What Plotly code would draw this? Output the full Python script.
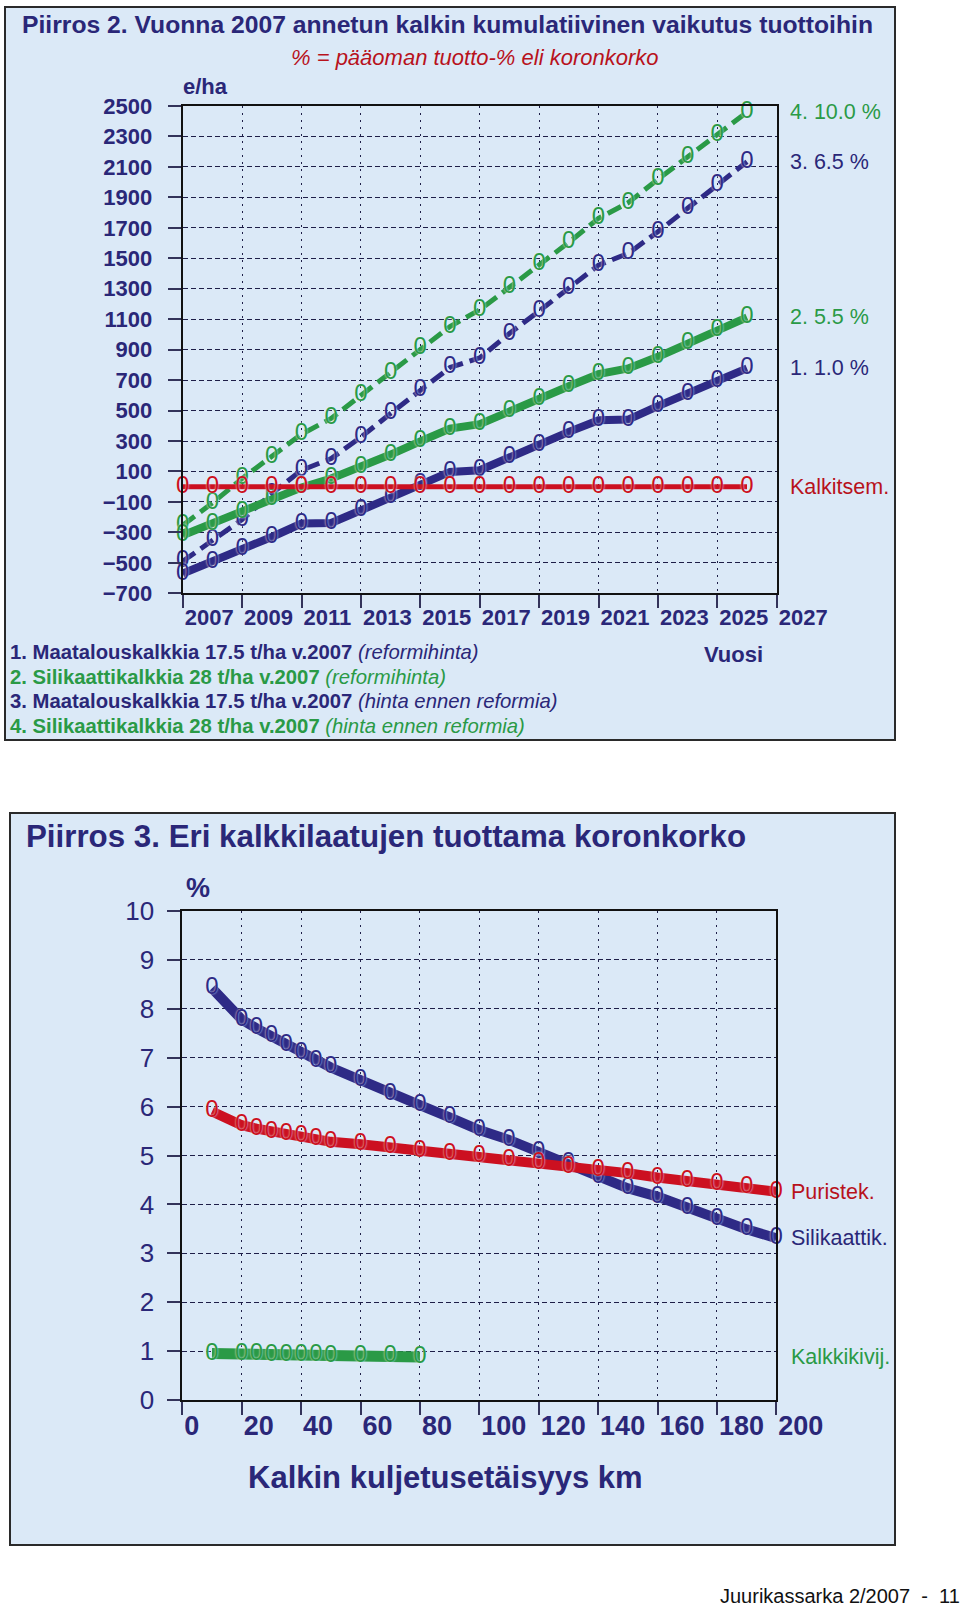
import plotly.graph_objects as go

W, H = 960, 1608

# ---------------- data: Piirros 2 ----------------
years = [2007, 2008, 2009, 2010, 2011, 2012, 2013, 2014, 2015, 2016,
         2017, 2018, 2019, 2020, 2021, 2022, 2023, 2024, 2025, 2026]
s1_maatalous_reform = [-570, -494, -406, -330, -242, -238, -155, -67, 21, 97,
                       108, 196, 273, 360, 437, 441, 529, 606, 695, 777]
s2_silikaatti_reform = [-319, -242, -166, -84, -5, 54, 130, 211, 298, 382,
                        411, 498, 579, 660, 739, 777, 853, 941, 1030, 1112]
s3_maatalous_ennen = [-490, -352, -216, -45, 108, 185, 325, 481, 632, 783,
                      846, 1006, 1153, 1302, 1455, 1532, 1674, 1828, 1981, 2134]
s4_silikaatti_ennen = [-253, -107, 54, 196, 345, 448, 601, 748, 908, 1052,
                       1162, 1309, 1460, 1604, 1762, 1865, 2018, 2163, 2309, 2459]
kalkitsem = [0, 0, 0, 0, 0, 0, 0, 0, 0, 0, 0, 0, 0, 0, 0, 0, 0, 0, 0, 0]
top_right_labels = ["1. 1.0 %", "2. 5.5 %", "3. 6.5 %", "4. 10.0 %", "Kalkitsem."]
legend_lines = [
    ("1. Maatalouskalkkia 17.5 t/ha v.2007", "(reformihinta)"),
    ("2. Silikaattikalkkia 28 t/ha v.2007", "(reformihinta)"),
    ("3. Maatalouskalkkia 17.5 t/ha v.2007", "(hinta ennen reformia)"),
    ("4. Silikaattikalkkia 28 t/ha v.2007", "(hinta ennen reformia)"),
]

# ---------------- data: Piirros 3 ----------------
km = [10, 20, 25, 30, 35, 40, 45, 50, 60, 70, 80, 90, 100, 110, 120, 130,
      140, 150, 160, 170, 180, 190, 200]
silikaattik = [8.42, 7.78, 7.60, 7.44, 7.27, 7.09, 6.94, 6.80, 6.54, 6.26, 6.03,
               5.78, 5.52, 5.32, 5.08, 4.85, 4.57, 4.33, 4.16, 3.92, 3.70, 3.49, 3.31]
puristek = [5.90, 5.62, 5.55, 5.49, 5.44, 5.40, 5.34, 5.28, 5.23, 5.17, 5.10,
            5.03, 4.98, 4.90, 4.84, 4.77, 4.70, 4.64, 4.55, 4.48, 4.42, 4.35, 4.26]
km_kalkkikivi = [10, 20, 25, 30, 35, 40, 45, 50, 60, 70, 80]
kalkkikivij = [0.95, 0.94, 0.94, 0.93, 0.93, 0.92, 0.92, 0.91, 0.90, 0.89, 0.88]

# ---------------- styles ----------------
NAVY = "#2e2a86"
NAVY_T = "#2a2778"
GREEN = "#2a9a46"
RED = "#cc1020"
RED_T = "#b8121c"
BG = "#dbe9f7"
GRID = "#1e1e48"
SANS = "Liberation Sans, Arial, sans-serif"


def fx(p):
    return p / W


def fy(p):
    return 1 - p / H


fig = go.Figure()


def add_series(x, y, color, width, dash, xa, ya, size=24):
    # line with oval "0" glyph markers (as in the original chart)
    fig.add_trace(go.Scatter(
        x=x, y=y, mode="lines+text", text=["0"] * len(x),
        textposition="middle center",
        textfont=dict(family=SANS, size=size, color=color,
                      shadow="0px 0px 2px #e8f1fb"),
        line=dict(color=color, width=width, dash=dash),
        xaxis=xa, yaxis=ya, cliponaxis=False, showlegend=False,
        hoverinfo="skip"))


DASH = "15px,7px"
add_series(years, s3_maatalous_ennen, NAVY, 5, DASH, "x", "y")
add_series(years, s4_silikaatti_ennen, GREEN, 5, DASH, "x", "y")
add_series(years, s1_maatalous_reform, NAVY, 8, "solid", "x", "y")
add_series(years, s2_silikaatti_reform, GREEN, 8, "solid", "x", "y")
add_series(years, kalkitsem, RED, 5, "solid", "x", "y")

add_series(km_kalkkikivi, kalkkikivij, GREEN, 11, "solid", "x2", "y2")
add_series(km, silikaattik, NAVY, 10, "solid", "x2", "y2")
add_series(km, puristek, RED, 10, "solid", "x2", "y2")

axis_common = dict(
    showline=True, linecolor="#111111", linewidth=2, mirror=True,
    ticks="outside", ticklen=13, tickwidth=2, tickcolor="#33335a",
    showgrid=True, gridcolor=GRID, gridwidth=1.3, zeroline=False,
    automargin=False, tickangle=0,
)

tickfont_top = dict(family=SANS, size=22, color=NAVY_T, weight="bold")

fig.update_layout(
    width=W, height=H, autosize=False,
    margin=dict(l=0, r=0, t=0, b=0, autoexpand=False),
    paper_bgcolor="white", plot_bgcolor="rgba(0,0,0,0)",
    xaxis=dict(axis_common, domain=[fx(182.7), fx(776.7)], anchor="y",
               range=[2007, 2027], tick0=2007, dtick=2, griddash="2px,5px",
               ticklabelposition="outside right", tickfont=tickfont_top,
               ticklabelstandoff=3),
    yaxis=dict(axis_common, domain=[fy(593.3), fy(106)], anchor="x",
               range=[-700, 2500], tick0=-700, dtick=200, griddash="5px,3px",
               tickfont=tickfont_top, ticklabelstandoff=11),
    xaxis2=dict(axis_common, domain=[fx(182.3), fx(776.3)], anchor="y2",
                range=[0, 200], tick0=0, dtick=20, griddash="2px,5px",
                ticklabelposition="outside right",
                tickfont=dict(family=SANS, size=27, color=NAVY_T, weight="bold"),
                ticklabelstandoff=1),
    yaxis2=dict(axis_common, domain=[fy(1400), fy(911)], anchor="x2",
                range=[0, 10], tick0=0, dtick=1, griddash="5px,3px",
                tickfont=dict(family=SANS, size=26, color=NAVY_T),
                ticklabelstandoff=8),
)

# panels
fig.add_shape(type="rect", xref="paper", yref="paper",
              x0=fx(5), x1=fx(895), y0=fy(740), y1=fy(7),
              fillcolor=BG, line=dict(color="#2a2a2a", width=2), layer="below")
fig.add_shape(type="rect", xref="paper", yref="paper",
              x0=fx(10), x1=fx(895), y0=fy(1545), y1=fy(813),
              fillcolor=BG, line=dict(color="#2a2a2a", width=2), layer="below")

ann = []


def A(text, x, y, size, color, xanchor="left", yanchor="middle", **kw):
    ann.append(dict(text=text, x=x, y=y, xref=kw.pop("xref", "paper"),
                    yref=kw.pop("yref", "paper"), showarrow=False,
                    xanchor=xanchor, yanchor=yanchor,
                    font=dict(family=SANS, size=size, color=color), **kw))


A("<b>Piirros 2. Vuonna 2007 annetun kalkin kumulatiivinen vaikutus tuottoihin</b>",
  fx(20), fy(24), 24.7, NAVY_T)
A("<i>% = pääoman tuotto-% eli koronkorko</i>", fx(474), fy(58), 22, RED_T,
  xanchor="center")
A("<b>e/ha</b>", fx(181), fy(87), 22, NAVY_T)

# right labels for top chart, aligned with last values
top_ends = [s1_maatalous_reform[-1], s2_silikaatti_reform[-1],
            s3_maatalous_ennen[-1], s4_silikaatti_ennen[-1], kalkitsem[-1]]
top_cols = [NAVY_T, GREEN, NAVY_T, GREEN, RED_T]
for lab, yv, col in zip(top_right_labels, top_ends, top_cols):
    A(lab, fx(788), yv, 21.5, col, yref="y")

leg_cols = [NAVY_T, GREEN, NAVY_T, GREEN]
leg_y = [652, 677, 701, 726]
for (main, par), col, yp in zip(legend_lines, leg_cols, leg_y):
    A(f"<b>{main}</b> <i>{par}</i>", fx(8), fy(yp), 20.3, col)

A("<b>Vuosi</b>", fx(733), fy(654), 22, NAVY_T, xanchor="center")

A("<b>Piirros 3. Eri kalkkilaatujen tuottama koronkorko</b>", fx(24), fy(836), 31.3, NAVY_T)
A("<b>%</b>", fx(198), fy(888), 27, NAVY_T, xanchor="center")

bot_labels = ["Puristek.", "Silikaattik.", "Kalkkikivij."]
bot_ends = [puristek[-1], silikaattik[-1], kalkkikivij[-1]]
bot_cols = [RED_T, NAVY_T, GREEN]
for lab, yv, col in zip(bot_labels, bot_ends, bot_cols):
    A(lab, fx(789), yv, 21.5, col, yref="y2")

A("<b>Kalkin kuljetusetäisyys km</b>", fx(445), fy(1477), 31, NAVY_T,
  xanchor="center")
A("Juurikassarka 2/2007  -  11", fx(962), fy(1596), 20, "#111111",
  xanchor="right")

fig.update_layout(annotations=ann)

fig.write_html("out.html")
